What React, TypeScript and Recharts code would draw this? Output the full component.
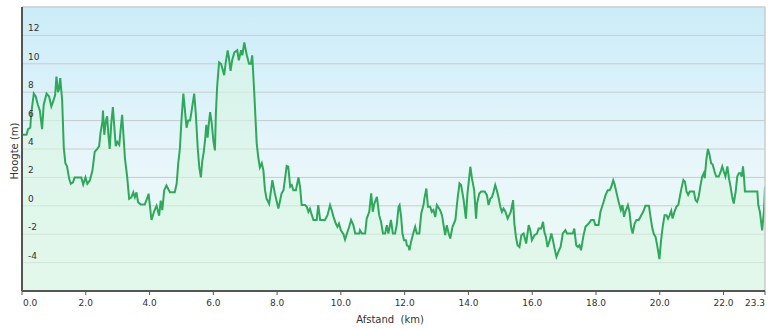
import React from "react";
import {
  AreaChart,
  Area,
  XAxis,
  YAxis,
  CartesianGrid,
  ReferenceLine,
} from "recharts";

// distance (km)
const distance: number[] = [
  0.0, 0.14, 0.19, 0.26, 0.29, 0.37, 0.43, 0.5, 0.56, 0.63, 0.68, 0.77, 0.85, 0.92, 0.97, 1.04, 1.08, 1.13, 1.16, 1.2,
  1.26, 1.31, 1.36, 1.41, 1.48, 1.53, 1.6, 1.65, 1.86, 1.92, 1.99, 2.05, 2.13, 2.21, 2.28, 2.36, 2.42, 2.46, 2.52, 2.54,
  2.58, 2.63, 2.67, 2.71, 2.75, 2.8, 2.85, 2.9, 2.94, 2.99, 3.05, 3.09, 3.14, 3.19, 3.23, 3.3, 3.36, 3.43, 3.49, 3.54,
  3.59, 3.64, 3.72, 3.85, 3.92, 3.97, 4.06, 4.15, 4.22, 4.3, 4.35, 4.4, 4.46, 4.53, 4.64, 4.79, 4.85, 4.9, 4.95, 5.0,
  5.06, 5.11, 5.16, 5.21, 5.27, 5.32, 5.4, 5.45, 5.51, 5.56, 5.61, 5.65, 5.7, 5.74, 5.78, 5.82, 5.86, 5.9, 5.95, 6.0,
  6.05, 6.08, 6.12, 6.18, 6.24, 6.28, 6.34, 6.39, 6.45, 6.49, 6.54, 6.59, 6.66, 6.75, 6.8, 6.87, 6.91, 6.97, 7.05, 7.12,
  7.18, 7.22, 7.28, 7.36, 7.41, 7.46, 7.52, 7.57, 7.62, 7.67, 7.75, 7.81, 7.85, 7.93, 8.04, 8.14, 8.2, 8.25, 8.3, 8.35,
  8.41, 8.46, 8.51, 8.59, 8.67, 8.72, 8.77, 8.88, 8.93, 8.98, 9.03, 9.09, 9.14, 9.24, 9.29, 9.35, 9.5, 9.58, 9.66, 9.71,
  9.77, 9.84, 9.89, 9.94, 10.0, 10.08, 10.13, 10.19, 10.26, 10.32, 10.39, 10.45, 10.58, 10.6, 10.66, 10.76, 10.81, 10.89, 10.95, 11.0,
  11.05, 11.13, 11.2, 11.26, 11.32, 11.39, 11.44, 11.49, 11.57, 11.63, 11.7, 11.75, 11.81, 11.84, 11.89, 11.93, 11.98, 12.04, 12.07, 12.12,
  12.15, 12.2, 12.28, 12.33, 12.38, 12.46, 12.52, 12.59, 12.62, 12.68, 12.73, 12.8, 12.85, 12.9, 12.96, 13.01, 13.11, 13.17, 13.22, 13.27,
  13.32, 13.38, 13.43, 13.5, 13.59, 13.66, 13.72, 13.77, 13.85, 13.92, 13.97, 14.06, 14.11, 14.18, 14.24, 14.27, 14.34, 14.4, 14.51, 14.58,
  14.63, 14.69, 14.74, 14.79, 14.84, 14.89, 14.95, 15.0, 15.05, 15.1, 15.16, 15.23, 15.28, 15.33, 15.4, 15.44, 15.49, 15.54, 15.6, 15.66,
  15.73, 15.81, 15.89, 15.94, 15.99, 16.07, 16.15, 16.2, 16.28, 16.34, 16.38, 16.43, 16.48, 16.55, 16.6, 16.65, 16.7, 16.76, 16.84, 16.89,
  16.96, 17.04, 17.09, 17.27, 17.32, 17.38, 17.43, 17.48, 17.53, 17.6, 17.67, 17.77, 17.85, 17.93, 17.98, 18.08, 18.14, 18.19, 18.24, 18.3,
  18.37, 18.43, 18.48, 18.54, 18.59, 18.66, 18.71, 18.78, 18.83, 18.88, 18.92, 19.0, 19.05, 19.1, 19.15, 19.21, 19.27, 19.34, 19.42, 19.48,
  19.55, 19.66, 19.71, 19.76, 19.81, 19.87, 19.92, 19.99, 20.04, 20.09, 20.15, 20.21, 20.26, 20.31, 20.36, 20.4, 20.46, 20.52, 20.58, 20.63,
  20.68, 20.74, 20.79, 20.84, 20.89, 20.94, 21.07, 21.12, 21.17, 21.22, 21.28, 21.33, 21.38, 21.41, 21.46, 21.51, 21.56, 21.61, 21.66, 21.72,
  21.77, 21.85, 21.91, 21.96, 22.01, 22.06, 22.12, 22.17, 22.22, 22.27, 22.32, 22.38, 22.43, 22.48, 22.53, 22.57, 22.61, 22.64, 22.67, 23.06,
  23.09, 23.14, 23.21, 23.27, 23.3,
];

// elevation (m)
const elevation: number[] = [
  5.0, 5.0, 5.4, 5.5, 6.5, 7.9, 7.7, 7.1, 6.7, 5.4, 7.1, 7.9, 7.7, 7.0, 7.3, 7.8, 9.1, 8.0, 8.2, 9.0,
  7.4, 4.1, 3.0, 2.8, 1.9, 1.55, 1.65, 2.0, 2.0, 1.5, 2.0, 1.55, 1.8, 2.5, 3.8, 4.0, 4.2, 5.1, 5.9, 6.7,
  5.0, 6.0, 6.3, 5.0, 4.0, 5.8, 6.95, 5.4, 4.2, 4.5, 4.3, 5.3, 6.4, 4.7, 3.3, 2.0, 0.5, 0.6, 0.95, 0.6,
  0.95, 0.25, 0.1, 0.1, 0.5, 0.85, -1.0, -0.35, 0.0, -0.7, 0.37, -0.3, 1.1, 1.43, 0.96, 0.96, 1.55, 3.0, 4.0, 6.0,
  7.9, 6.7, 5.5, 6.0, 6.0, 6.7, 7.9, 6.5, 4.1, 2.7, 2.0, 3.1, 3.8, 4.6, 5.7, 4.8, 5.8, 6.6, 5.8, 4.6,
  3.9, 6.5, 8.4, 10.1, 10.0, 9.7, 9.2, 10.1, 10.95, 10.4, 9.5, 10.25, 10.8, 10.95, 10.25, 10.95, 10.6, 11.5, 10.6, 10.0,
  10.0, 10.6, 8.1, 4.4, 3.4, 2.7, 3.0, 2.5, 1.1, 0.5, 0.14, 1.1, 1.8, 0.87, -0.2, 0.87, 1.1, 1.93, 2.8, 2.75,
  1.34, 1.46, 1.1, 1.1, 2.0, 1.34, 0.05, 0.05, -0.07, -0.42, -0.2, -0.66, -1.0, -1.0, 0.05, -1.0, -1.0, -0.66, 0.05, -0.3,
  -0.78, -1.25, -1.48, -1.25, -1.72, -2.0, -2.38, -1.95, -1.48, -1.0, -1.36, -1.95, -1.95, -1.72, -1.95, -1.95, -0.9, -0.42, 0.87, -0.42,
  0.16, 0.63, -0.66, -1.13, -1.95, -1.95, -1.36, -1.95, -1.0, -1.95, -1.95, -1.36, -0.07, 0.05, -0.78, -1.95, -2.42, -2.42, -2.78, -2.85,
  -3.13, -2.54, -1.84, -1.48, -1.95, -1.95, -0.54, 0.05, 0.52, 1.22, -0.07, -0.07, -0.42, -0.3, -0.78, 0.05, -0.3, -0.66, -1.36, -2.07,
  -1.36, -1.95, -2.3, -1.48, -1.0, 0.52, 1.58, 1.46, 0.4, -0.9, 0.87, 2.75, 1.93, 1.1, -0.9, 0.16, 0.87, 1.0, 1.0, 0.75,
  0.05, 0.52, 0.63, 1.0, 1.46, 1.1, 0.52, -0.07, -0.42, -0.2, -0.42, -0.9, -0.66, -0.42, 0.4, -1.25, -2.19, -2.78, -2.9, -2.07,
  -1.95, -2.66, -1.36, -1.72, -2.42, -2.07, -1.95, -1.6, -1.6, -1.13, -1.84, -2.19, -2.9, -2.42, -1.95, -2.42, -3.0, -3.6, -3.13, -2.9,
  -1.95, -1.72, -1.95, -1.95, -1.6, -2.78, -2.9, -2.78, -3.13, -2.19, -1.48, -1.25, -1.0, -1.0, -1.36, -1.36, -0.42, -0.07, 0.28, 0.75,
  1.1, 1.1, 1.34, 1.8, 1.46, 0.75, 0.28, -0.3, 0.05, -0.78, -0.42, 0.05, -0.42, -1.48, -1.95, -1.25, -1.0, -1.0, -0.66, -0.42,
  0.0, 0.0, -0.78, -1.5, -1.97, -2.2, -2.8, -3.75, -2.44, -1.5, -0.66, -0.66, -0.9, -0.66, -0.36, -0.9, -0.43, -0.07, 0.05, 0.64,
  1.23, 1.82, 1.7, 1.0, 0.76, 1.0, 1.0, 0.4, 0.28, 0.64, 1.47, 2.06, 2.3, 1.94, 3.25, 4.0, 3.6, 3.0, 2.9, 2.4,
  2.06, 2.06, 2.4, 2.77, 2.4, 2.06, 2.77, 1.94, 1.35, 0.64, 0.16, 1.0, 2.06, 2.3, 2.3, 2.06, 2.77, 2.06, 1.0, 1.0,
  0.05, -0.43, -1.73, -0.3, 1.35,
];

const xTicks: number[] = [0, 2, 4, 6, 8, 10, 12, 14, 16, 18, 20, 22, 23.3];
const yTicks: number[] = [-4, -2, 0, 2, 4, 6, 8, 10, 12];
const xLabel = "Afstand\u00a0 (km)";
const yLabel = "Hoogte (m)";

const data = distance.map((d, i) => ({ d, h: elevation[i] }));

const FONT = "'DejaVu Sans', Verdana, sans-serif";

const XTick = (props: any) => {
  const { x, y, payload, index } = props;
  const last = index === xTicks.length - 1;
  const anchor = index === 0 ? "start" : last ? "end" : "middle";
  const label = payload.value === 23.3 ? "23.3" : Number(payload.value).toFixed(1);
  return (
    <text
      x={index === 0 ? x + 1 : x}
      y={y + 9}
      textAnchor={anchor}
      fontSize={9}
      fontFamily={FONT}
      fill="#333"
    >
      {label}
    </text>
  );
};

const YTick = (props: any) => {
  const { y, payload } = props;
  return (
    <text x={28} y={y - 4} textAnchor="start" fontSize={9} fontFamily={FONT} fill="#333">
      {payload.value}
    </text>
  );
};

export default function App() {
  return (
    <div style={{ position: "absolute", left: 0, top: 0, width: 768, height: 329, background: "#fff" }}>
      <AreaChart
        width={768}
        height={329}
        data={data}
        margin={{ top: 7, right: 3, bottom: 0, left: 0 }}
      >
        <defs>
          <linearGradient id="bgGrad" x1="0" y1="0" x2="0" y2="1">
            <stop offset="0%" stopColor="#cbecf8" />
            <stop offset="55%" stopColor="#e8f6fb" />
            <stop offset="100%" stopColor="#eefaf4" />
          </linearGradient>
          <linearGradient id="areaGrad" x1="0" y1="0" x2="0" y2="1">
            <stop offset="0%" stopColor="#d8f5e2" stopOpacity={0.6} />
            <stop offset="100%" stopColor="#d9f6e3" stopOpacity={0.6} />
          </linearGradient>
        </defs>
        <CartesianGrid
          horizontal
          vertical={false}
          stroke="#c6cccc"
          strokeWidth={1}
          fill="url(#bgGrad)"
          fillOpacity={1}
        />
        <XAxis
          dataKey="d"
          type="number"
          domain={[0, 23.3]}
          ticks={xTicks}
          interval={0}
          height={38}
          axisLine={{ stroke: "#555", strokeWidth: 2 }}
          tickLine={{ stroke: "#555" }}
          tickSize={4}
          tick={<XTick />}
          allowDataOverflow
          label={{
            content: () => (
              <text x={390} y={323} textAnchor="middle" fontSize={10} fontFamily={FONT} fill="#333">
                {xLabel}
              </text>
            ),
          }}
        />
        <YAxis
          type="number"
          domain={[-6, 14]}
          ticks={yTicks}
          interval={0}
          width={22}
          axisLine={{ stroke: "#555", strokeWidth: 2 }}
          tickLine={false}
          tick={<YTick />}
          allowDataOverflow
          label={{
            content: () => (
              <text
                x={14}
                y={151}
                transform="rotate(-90 14 151)"
                textAnchor="middle"
                dominantBaseline="central"
                fontSize={10}
                fontFamily={FONT}
                fill="#333"
              >
                {yLabel}
              </text>
            ),
          }}
        />
        <ReferenceLine y={14} stroke="#d0d4d6" strokeWidth={1.5} />
        <ReferenceLine x={23.3} stroke="#c8cccc" strokeWidth={1.5} />
        <Area
          type="linear"
          dataKey="h"
          stroke="#2ea85a"
          strokeWidth={2}
          fill="url(#areaGrad)"
          fillOpacity={1}
          baseValue={-6}
          dot={false}
          activeDot={false}
          isAnimationActive={false}
        />
      </AreaChart>
    </div>
  );
}
